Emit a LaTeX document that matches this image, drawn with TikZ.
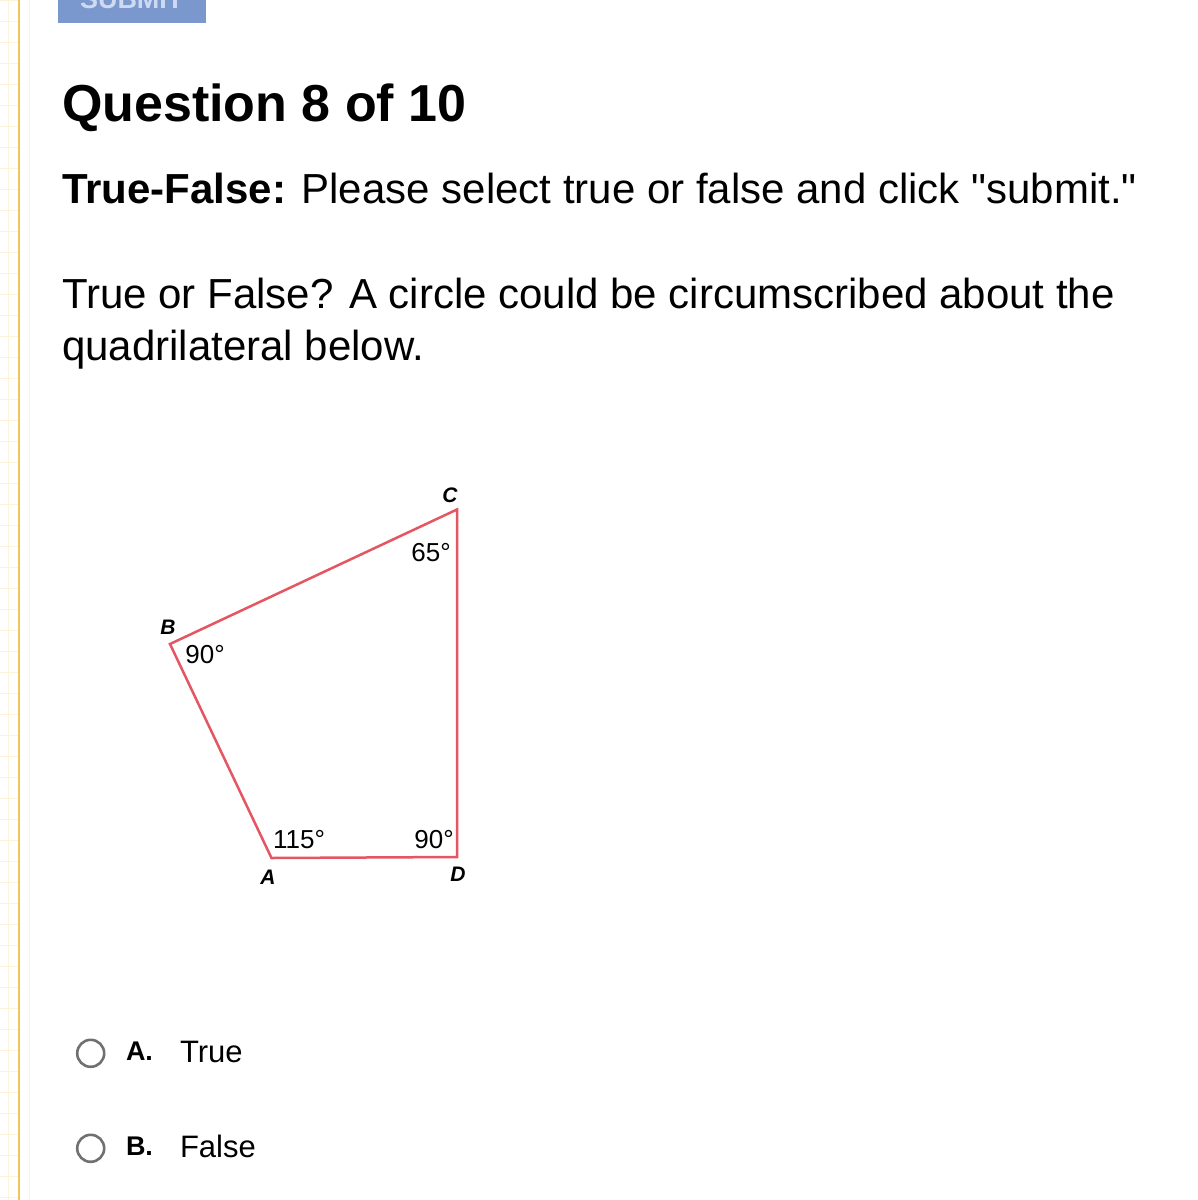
\documentclass[tikz,border=0pt]{standalone}
\usepackage{fontspec}
\setmainfont{Liberation Sans}[Ligatures=TeXOff]
\begin{document}
\begin{tikzpicture}[x=1pt,y=-1pt,
  txt/.style={anchor=base west,inner sep=0pt,outer sep=0pt},
  vlab/.style={inner sep=0pt,font=\fontsize{21}{24}\selectfont\bfseries\itshape},
  alab/.style={inner sep=0pt,font=\fontsize{26}{30}\selectfont},
  radio/.style={draw=radiogray,line width=2.6pt,circle,minimum size=27pt,inner sep=0pt},
  quad/.style={draw=quadred,line width=2.5pt,line join=miter}]
\definecolor{quadred}{RGB}{228,86,98}
\definecolor{radiogray}{RGB}{112,112,112}
\definecolor{gridy}{RGB}{252,243,218}
\definecolor{bordery}{RGB}{238,198,92}
\definecolor{btnblue}{RGB}{122,152,206}
\definecolor{btntext}{RGB}{205,218,242}
\useasboundingbox (0,0) rectangle (1198,1200);
\fill[white] (0,0) rectangle (1198,1200);
% faint grid at left margin
\foreach \y in {0,21,...,1200} \draw[gridy,line width=1pt] (0,\y) -- (18,\y);
\draw[gridy,line width=1pt] (8,0) -- (8,1200);
\draw[gridy,line width=1pt] (29,0) -- (29,1200);
% border line
\draw[bordery,line width=2.4pt] (19,0) -- (19,1200);
% submit button (cropped)
\begin{scope}
\clip (58,0) rectangle (206,23);
\fill[btnblue] (58,-10) rectangle (206,23);
\node[txt,text=btntext,font=\fontsize{27}{30}\selectfont\bfseries] (submit) at (80,8) {SUBMIT};
\end{scope}
% texts
\node[txt,font=\fontsize{52}{60}\selectfont\bfseries] (title) at (62,121.5) {Question 8 of 10};
\node[txt,font=\fontsize{42}{48}\selectfont] (instr) at (62,203.3) {\textbf{True-False:} Please select true or false and click "submit."};
\node[txt,font=\fontsize{42}{48}\selectfont] (q1) at (62,308.3) {True or False? A circle could be circumscribed about the};
\node[txt,font=\fontsize{42}{48}\selectfont] (q2) at (62,360.7) {quadrilateral below.};
% quadrilateral
\coordinate (A) at (271.5,858);
\coordinate (B) at (170,644);
\coordinate (C) at (457,509.5);
\coordinate (D) at (457,857);
\draw[quad] (A) -- (B) -- (C) -- (D) -- cycle;
\node[vlab] (lC) at (450,495) {C};
\node[vlab] (lB) at (168,627) {B};
\node[vlab] (lA) at (268,877) {A};
\node[vlab] (lD) at (458,874) {D};
\node[alab] (aC) at (431,553) {65°};
\node[alab] (aB) at (205,655) {90°};
\node[alab] (aA) at (299,840) {115°};
\node[alab] (aD) at (434,840) {90°};
% options
\node[radio] (rA) at (90.7,1053.3) {};
\node[radio] (rB) at (90.7,1148.3) {};
\node[txt,font=\fontsize{27}{30}\selectfont\bfseries] (oA) at (126,1060) {A.};
\node[txt,font=\fontsize{31}{36}\selectfont] (tA) at (180,1062.7) {True};
\node[txt,font=\fontsize{27}{30}\selectfont\bfseries] (oB) at (126,1155) {B.};
\node[txt,font=\fontsize{31}{36}\selectfont] (tB) at (180,1157) {False};
\end{tikzpicture}
\end{document}
